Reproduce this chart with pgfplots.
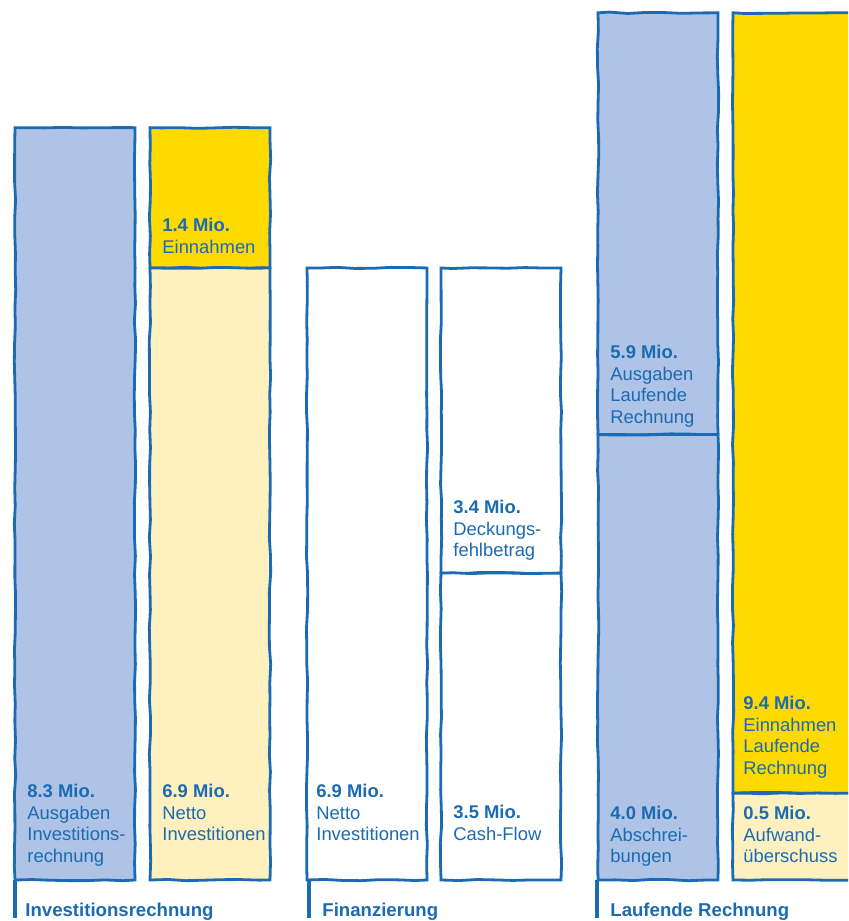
\documentclass[border=0pt]{standalone}
\usepackage{fontspec}
\setmainfont{Liberation Sans}
\usepackage{pgfplots}
\pgfplotsset{compat=1.18}
\usetikzlibrary{decorations.pathmorphing}
\definecolor{lineblue}{HTML}{1A6BB3}
\definecolor{barblue}{HTML}{AEC3E5}
\definecolor{baryellow}{HTML}{FFDA00}
\definecolor{lightyellow}{HTML}{FFF1BF}
\tikzset{
  lbl/.style={anchor=north west, inner sep=0pt, align=left, text=lineblue, font=\fontsize{9.2}{10.75}\selectfont},
  grp/.style={anchor=base west, inner sep=0pt, text=lineblue, font=\fontsize{9.3}{11}\selectfont\bfseries},
  sketch/.style={draw=lineblue, line width=1.4pt, decorate, decoration={random steps, segment length=9pt, amplitude=0.35pt}},
}
\pgfmathsetseed{7}
\begin{document}
\begin{tikzpicture}
\begin{axis}[
  scale only axis, width=424pt, height=460.5pt,
  xmin=0, xmax=848, ymin=-0.4676, ymax=10.036,
  hide axis,
  ybar stacked, bar width=120,
]
% bottom segments (heights as drawn in the reference)
\addplot[sketch, fill=barblue] coordinates {(75,8.58) (210,0) (367,0) (501,0) (658,5.08) (793,0)};
\addplot[sketch, fill=lightyellow] coordinates {(75,0) (210,6.98) (367,0) (501,0) (658,0) (793,0.99)};
\addplot[sketch, fill=white] coordinates {(75,0) (210,0) (367,6.98) (501,3.50) (658,0) (793,0)};
% top segments
\addplot[sketch, fill=baryellow] coordinates {(75,0) (210,1.60) (367,0) (501,0) (658,0) (793,8.90)};
\addplot[sketch, fill=white] coordinates {(75,0) (210,0) (367,0) (501,3.48) (658,0) (793,0)};
\addplot[sketch, fill=barblue] coordinates {(75,0) (210,0) (367,0) (501,0) (658,4.81) (793,0)};

% anchor points for the texts
\coordinate (t1a) at (axis cs:14.5,0);   \coordinate (t1b) at (axis cs:14.5,-0.43);
\coordinate (t2a) at (axis cs:309,0);    \coordinate (t2b) at (axis cs:309,-0.43);
\coordinate (t3a) at (axis cs:597,0);    \coordinate (t3b) at (axis cs:597,-0.43);
\coordinate (g1) at (axis cs:25,-0.42);
\coordinate (g2) at (axis cs:322,-0.42);
\coordinate (g3) at (axis cs:610,-0.42);
\coordinate (b1) at (axis cs:27,1.095);
\coordinate (b2) at (axis cs:162,1.095);
\coordinate (b3) at (axis cs:316,1.095);
\coordinate (b4) at (axis cs:453,0.855);
\coordinate (b5) at (axis cs:610,0.844);
\coordinate (b6) at (axis cs:743,0.844);
\coordinate (u2) at (axis cs:162,7.55);
\coordinate (u4) at (axis cs:453,4.334);
\coordinate (u5) at (axis cs:610,6.102);
\coordinate (u6) at (axis cs:743,2.099);
\end{axis}
% group ticks
\draw[lineblue, line width=2pt] (t1a) -- (t1b);
\draw[lineblue, line width=2pt] (t2a) -- (t2b);
\draw[lineblue, line width=2pt] (t3a) -- (t3b);
% group labels
\node[grp] at (g1) {Investitionsrechnung};
\node[grp] at (g2) {Finanzierung};
\node[grp] at (g3) {Laufende Rechnung};
% bottom segment labels
\node[lbl] at (b1) {\textbf{8.3 Mio.}\\Ausgaben\\Investitions-\\rechnung};
\node[lbl] at (b2) {\textbf{6.9 Mio.}\\Netto\\Investitionen};
\node[lbl] at (b3) {\textbf{6.9 Mio.}\\Netto\\Investitionen};
\node[lbl] at (b4) {\textbf{3.5 Mio.}\\Cash-Flow};
\node[lbl] at (b5) {\textbf{4.0 Mio.}\\Abschrei-\\bungen};
\node[lbl] at (b6) {\textbf{0.5 Mio.}\\Aufwand-\\überschuss};
% top segment labels
\node[lbl] at (u2) {\textbf{1.4 Mio.}\\Einnahmen};
\node[lbl] at (u4) {\textbf{3.4 Mio.}\\Deckungs-\\fehlbetrag};
\node[lbl] at (u5) {\textbf{5.9 Mio.}\\Ausgaben\\Laufende\\Rechnung};
\node[lbl] at (u6) {\textbf{9.4 Mio.}\\Einnahmen\\Laufende\\Rechnung};
\pgfresetboundingbox
\path (current axis.south west) rectangle (current axis.north east);
\end{tikzpicture}
\end{document}
